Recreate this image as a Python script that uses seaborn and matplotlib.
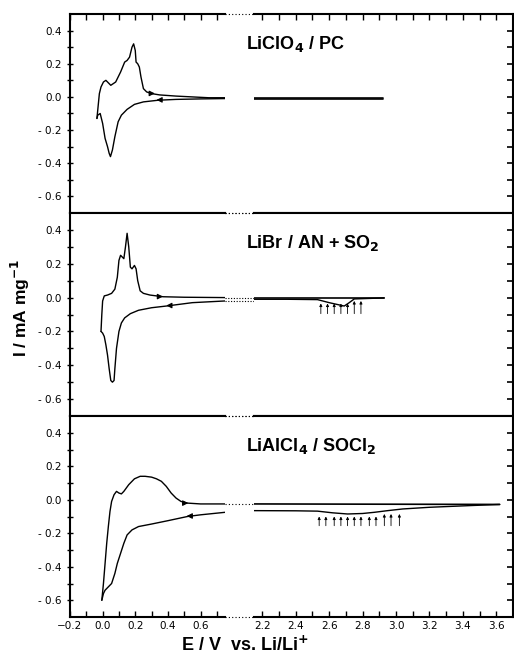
import numpy as np
import pandas as pd
import seaborn as sns
import matplotlib
matplotlib.use("Agg")
import matplotlib.pyplot as plt

# Données (E en V vs Li/Li+, I en mA/mg)
# -- LiClO4 / PC
pc_anod_E = [-0.035, -0.03, -0.02, -0.01, 0.005, 0.02, 0.035, 0.05, 0.08, 0.11, 0.135, 0.15, 0.165,
             0.18, 0.19, 0.2, 0.205, 0.215, 0.225, 0.235, 0.25, 0.27, 0.30, 0.35, 0.45, 0.55, 0.65, 0.75]
pc_anod_I = [-0.13, -0.08, 0.02, 0.06, 0.09, 0.10, 0.085, 0.07, 0.09, 0.15, 0.21, 0.22, 0.24,
             0.30, 0.32, 0.28, 0.21, 0.20, 0.18, 0.12, 0.05, 0.03, 0.02, 0.012, 0.005, 0.0, -0.005, -0.005]
pc_cath_E = [0.75, 0.6, 0.45, 0.34, 0.25, 0.195, 0.15, 0.115, 0.095, 0.075, 0.06, 0.048, 0.04,
             0.03, 0.015, 0.0, -0.015, -0.03, -0.035]
pc_cath_I = [-0.01, -0.012, -0.015, -0.02, -0.03, -0.045, -0.075, -0.11, -0.15, -0.24, -0.32, -0.36, -0.34,
             -0.30, -0.25, -0.16, -0.10, -0.11, -0.13]
pc_high_E = [2.15, 2.92]
pc_high_up = [-0.006, -0.006]
pc_high_down = [-0.012, -0.012]

# -- LiBr / AN + SO2
an_anod_E = [-0.01, -0.005, 0.0, 0.01, 0.03, 0.055, 0.075, 0.09, 0.1, 0.11, 0.12, 0.13, 0.14, 0.15,
             0.16, 0.17, 0.18, 0.195, 0.205, 0.215, 0.23, 0.25, 0.29, 0.37, 0.5, 0.75]
an_anod_I = [-0.2, -0.1, -0.02, 0.01, 0.015, 0.025, 0.05, 0.12, 0.22, 0.25, 0.24, 0.23, 0.30, 0.38,
             0.30, 0.18, 0.17, 0.19, 0.17, 0.10, 0.04, 0.025, 0.015, 0.005, 0.002, 0.0]
an_cath_E = [0.75, 0.55, 0.39, 0.3, 0.22, 0.17, 0.135, 0.115, 0.1, 0.085, 0.075, 0.07, 0.06, 0.05,
             0.04, 0.03, 0.02, 0.01, 0.0, -0.01]
an_cath_I = [-0.02, -0.03, -0.05, -0.06, -0.075, -0.095, -0.12, -0.15, -0.2, -0.3, -0.42, -0.49, -0.5, -0.49,
             -0.42, -0.34, -0.28, -0.23, -0.21, -0.2]
an_high_up_E = [2.15, 2.93]
an_high_up_I = [0.0, 0.0]
an_high_down_E = [2.15, 2.35, 2.53, 2.6, 2.69, 2.72, 2.75, 2.93]
an_high_down_I = [-0.01, -0.01, -0.012, -0.03, -0.05, -0.03, -0.008, -0.002]
an_arrows_E = [2.55, 2.59, 2.63, 2.67, 2.71, 2.75, 2.79]

# -- LiAlCl4 / SOCl2
so_anod_E = [-0.005, 0.005, 0.015, 0.025, 0.035, 0.045, 0.055, 0.07, 0.085, 0.1, 0.115, 0.13, 0.16,
             0.195, 0.23, 0.26, 0.3, 0.33, 0.36, 0.39, 0.42, 0.45, 0.48, 0.52, 0.6, 0.75]
so_anod_I = [-0.60, -0.50, -0.38, -0.26, -0.16, -0.07, -0.01, 0.03, 0.05, 0.04, 0.035, 0.05, 0.09,
             0.125, 0.14, 0.14, 0.135, 0.125, 0.11, 0.08, 0.04, 0.01, -0.01, -0.02, -0.025, -0.025]
so_cath_E = [0.75, 0.6, 0.52, 0.4, 0.3, 0.22, 0.18, 0.15, 0.13, 0.11, 0.09, 0.075, 0.055, 0.035,
             0.015, 0.005, -0.005]
so_cath_I = [-0.075, -0.09, -0.10, -0.125, -0.145, -0.16, -0.18, -0.21, -0.26, -0.32, -0.38, -0.44, -0.50, -0.52,
             -0.54, -0.56, -0.60]
so_high_up_E = [2.15, 3.62]
so_high_up_I = [-0.025, -0.028]
so_high_down_E = [2.15, 2.4, 2.53, 2.62, 2.71, 2.8, 2.87, 2.95, 3.04, 3.2, 3.44, 3.62]
so_high_down_I = [-0.065, -0.066, -0.068, -0.078, -0.085, -0.082, -0.075, -0.065, -0.055, -0.045, -0.035, -0.028]
so_arrows_E = [2.54, 2.58, 2.63, 2.67, 2.71, 2.75, 2.79, 2.84, 2.88, 2.93, 2.97, 3.02]

labels = ["LiClO$_\\mathbf{4}$ / PC", "LiBr / AN + SO$_\\mathbf{2}$", "LiAlCl$_\\mathbf{4}$ / SOCl$_\\mathbf{2}$"]
yticks = [-0.6, -0.4, -0.2, 0.0, 0.2, 0.4]
ytick_labels = ["- 0.6", "- 0.4", "- 0.2", "0.0", "0.2", "0.4"]
xticks_low = [-0.2, 0.0, 0.2, 0.4, 0.6]
xticks_high = [2.2, 2.4, 2.6, 2.8, 3.0, 3.2, 3.4, 3.6]

sns.set_style("ticks")
plt.rcParams['font.family'] = ['DejaVu Sans']
plt.rcParams['mathtext.default'] = 'bf'
for key in ("text.color", "axes.labelcolor", "xtick.color", "ytick.color", "axes.edgecolor"):
    plt.rcParams[key] = "black"

fig = plt.figure(figsize=(5.14, 6.58), dpi=100)
W, H = 514, 658
xl0, xl1, xr0, xr1 = 70, 225, 254, 513
rows = [(14, 213), (213, 416), (416, 617)]
gap = (xr0 - xl1) / (xl1 - xl0) * 0.95  # gap in left-axis data units


def add_cv(ax, E, I):
    df = pd.DataFrame({"E": E, "I": I})
    sns.lineplot(data=df, x="E", y="I", sort=False, color="black", lw=1.0, ax=ax, estimator=None)
    ax.set_xlabel("")
    ax.set_ylabel("")


def dir_arrow(ax, x, y, dx):
    ax.annotate("", xy=(x + dx, y), xytext=(x, y),
                arrowprops=dict(arrowstyle="-|>", color="black", lw=0.8, mutation_scale=8,
                                shrinkA=0, shrinkB=0))


def up_arrows(ax, xs, bottom, top, tall):
    for k, x in enumerate(xs):
        t = top + (0.015 if k >= len(xs) - tall else 0.0)
        ax.annotate("", xy=(x, t), xytext=(x, bottom),
                    arrowprops=dict(arrowstyle="-|>", color="black", lw=0.6, mutation_scale=4,
                                    shrinkA=0, shrinkB=0))


axes = []
for r, (y0, y1) in enumerate(rows):
    b = 1 - y1 / H
    h = (y1 - y0) / H
    axl = fig.add_axes([xl0 / W, b, (xl1 - xl0) / W, h])
    axr = fig.add_axes([xr0 / W, b, (xr1 - xr0) / W, h])
    for ax in (axl, axr):
        ax.set_ylim(-0.7, 0.5)
        for s in ax.spines.values():
            s.set_linewidth(1.5)
    axl.set_xlim(-0.2, 0.75)
    axr.set_xlim(2.15, 3.7)
    axl.spines["right"].set_visible(False)
    axr.spines["left"].set_visible(False)

    axl.set_yticks(yticks)
    axl.set_yticklabels(ytick_labels, fontsize=7.5)
    axl.set_yticks(np.arange(-0.6, 0.45, 0.1), minor=True)
    axl.tick_params(axis="y", which="both", direction="inout", length=5, width=1.0)
    axr.set_yticks(np.arange(-0.6, 0.45, 0.1))
    axr.tick_params(axis="y", which="both", left=False, right=True, labelleft=False,
                    direction="in", length=4, width=1.2)

    axl.set_xticks(xticks_low)
    axl.set_xticks(np.arange(-0.1, 0.75, 0.2), minor=True)
    axr.set_xticks(xticks_high)
    axr.set_xticks(np.arange(2.3, 3.75, 0.2), minor=True)
    for ax in (axl, axr):
        ax.tick_params(axis="x", which="both", direction="in", length=4, width=1.0,
                       top=(r == 0), bottom=(r == 2), labelbottom=(r == 2), labelsize=7.5, pad=3)

    # dotted break in the gap
    for yy in (0, 1):
        axl.plot([0.75, 0.75 + gap], [yy, yy], transform=axl.get_xaxis_transform(),
                 color="black", lw=0.8, ls=(0, (1, 2)), clip_on=False)
    axes.append((axl, axr))

# Panel 1
a1, b1 = axes[0]
add_cv(a1, pc_anod_E, pc_anod_I)
add_cv(a1, pc_cath_E, pc_cath_I)
b1.plot(pc_high_E, pc_high_up, color="black", lw=1.2)
b1.plot(pc_high_E, pc_high_down, color="black", lw=1.2)
dir_arrow(a1, 0.29, 0.021, 0.03)
dir_arrow(a1, 0.36, -0.018, -0.03)

# Panel 2
a2, b2 = axes[1]
add_cv(a2, an_anod_E, an_anod_I)
add_cv(a2, an_cath_E, an_cath_I)
b2.plot(an_high_up_E, an_high_up_I, color="black", lw=1.2)
b2.plot(an_high_down_E, an_high_down_I, color="black", lw=1.0)
dir_arrow(a2, 0.34, 0.006, 0.03)
dir_arrow(a2, 0.42, -0.047, -0.03)
up_arrows(b2, an_arrows_E, -0.095, -0.035, 2)
for yy in (0.0, -0.02):
    a2.plot([0.75, 0.75 + gap], [yy, yy], color="black", lw=0.8, ls=(0, (1, 1.5)), clip_on=False)

# Panel 3
a3, b3 = axes[2]
add_cv(a3, so_anod_E, so_anod_I)
add_cv(a3, so_cath_E, so_cath_I)
b3.plot(so_high_up_E, so_high_up_I, color="black", lw=1.2)
b3.plot(so_high_down_E, so_high_down_I, color="black", lw=1.0)
dir_arrow(a3, 0.49, -0.02, 0.035)
dir_arrow(a3, 0.55, -0.097, -0.035)
up_arrows(b3, so_arrows_E, -0.155, -0.1, 3)
a3.plot([0.75, 0.75 + gap], [-0.025, -0.025], color="black", lw=0.8, ls=(0, (1, 2)), clip_on=False)

for (axl, axr), lab in zip(axes, labels):
    axr.text(2.1, 0.32, lab, fontsize=13, fontweight="bold", family="Liberation Sans",
             ha="left", va="center")

fig.text(20 / W, 1 - 308 / H, "I / mA mg$^{-1}$", rotation=90, fontsize=12.5, fontweight="bold",
         family="Liberation Sans", ha="center", va="center")
fig.text(245 / W, 1 - 645 / H, "E / V  vs. Li/Li$^{+}$", fontsize=13, fontweight="bold",
         family="Liberation Sans", ha="center", va="center")

plt.savefig("out.png", dpi=100)
